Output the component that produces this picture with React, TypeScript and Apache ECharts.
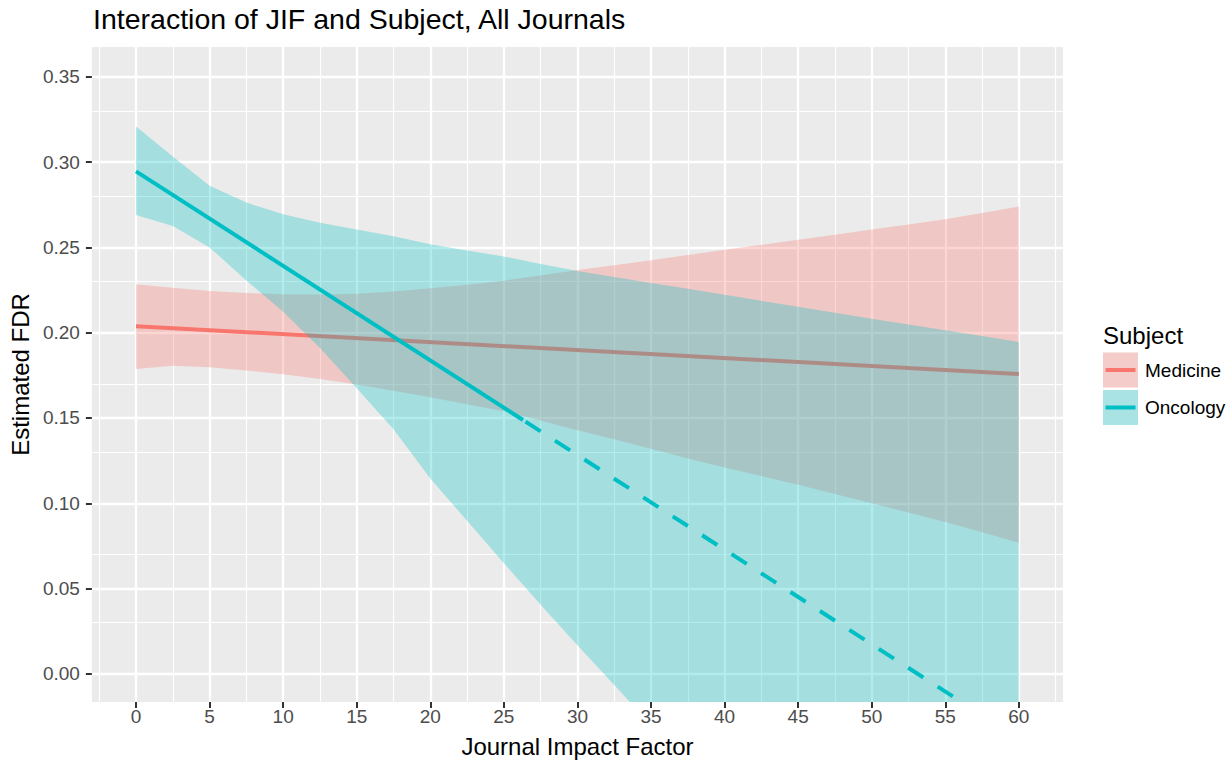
import React, { useEffect, useRef } from "react";
import * as echarts from "echarts";

// ---- data ----
const X_GRID = [0, 2.5, 5, 7.5, 10, 12.5, 15, 17.5, 20, 22.5, 25, 27.5, 30, 32.5, 35, 37.5, 40, 42.5, 45, 47.5, 50, 52.5, 55, 57.5, 60];

const MED_UPPER = [0.2284, 0.2264, 0.2245, 0.2233, 0.2226, 0.2224, 0.2228, 0.2242, 0.226, 0.2281, 0.2305, 0.2335, 0.2368, 0.2396, 0.2425, 0.2455, 0.2486, 0.2515, 0.2545, 0.2575, 0.2605, 0.2635, 0.2665, 0.2702, 0.274];
const MED_LOWER = [0.1787, 0.1806, 0.1797, 0.1778, 0.1757, 0.1728, 0.1697, 0.166, 0.1622, 0.158, 0.1539, 0.1486, 0.1428, 0.1375, 0.132, 0.1262, 0.121, 0.116, 0.1108, 0.1054, 0.1, 0.0946, 0.089, 0.083, 0.0768];
const ONC_UPPER = [0.3209, 0.3033, 0.2862, 0.2763, 0.2694, 0.2644, 0.2605, 0.2566, 0.2518, 0.2482, 0.2447, 0.2403, 0.2362, 0.2327, 0.2292, 0.2257, 0.2222, 0.2187, 0.2152, 0.2117, 0.2082, 0.2048, 0.2014, 0.198, 0.1946];
const ONC_LOWER = [0.269, 0.2625, 0.25, 0.2306, 0.2123, 0.1911, 0.1674, 0.1434, 0.1146, 0.0897, 0.0649, 0.0405, 0.0167, -0.0065, -0.03, -0.03, -0.03, -0.03, -0.03, -0.03, -0.03, -0.03, -0.03, -0.03, -0.03];

const MED_FIT = [[0, 0.2038], [60, 0.1758]];
const ONC_FIT_OBSERVED = [[0, 0.2946], [26.3, 0.1488]];
const ONC_FIT_EXTRAPOLATED = [[26.3, 0.1488], [56.1, -0.0165]];

const X_TICKS = [0, 5, 10, 15, 20, 25, 30, 35, 40, 45, 50, 55, 60];
const Y_TICKS = [0, 0.05, 0.1, 0.15, 0.2, 0.25, 0.3, 0.35];
const X_MINOR = [-2.5, 2.5, 7.5, 12.5, 17.5, 22.5, 27.5, 32.5, 37.5, 42.5, 47.5, 52.5, 57.5, 62.5];
const Y_MINOR = [0.025, 0.075, 0.125, 0.175, 0.225, 0.275, 0.325];

const SUBJECTS = ["Medicine", "Oncology"];
const COLORS = ["#F8766D", "#00BFC4"];
const FILLS = ["rgba(248,118,109,0.3)", "rgba(0,191,196,0.3)"];

const FONT = "'Liberation Sans', Arial, sans-serif";

function bandRows(xs: number[], lo: number[], up: number[]) {
  return xs.map((x, i) => [x, lo[i], up[i]]);
}

function bandSeries(name: string, rows: number[][], fill: string, z: number) {
  return {
    type: "custom",
    name,
    data: rows,
    encode: { x: 0, y: [1, 2] },
    clip: true,
    silent: true,
    z,
    renderItem: (params: any, api: any) => {
      if (params.dataIndex !== 0) return null;
      const top = rows.map((r) => api.coord([r[0], r[2]]));
      const bottom = rows.map((r) => api.coord([r[0], r[1]])).reverse();
      const cs = params.coordSys;
      return {
        type: "polygon",
        shape: { points: top.concat(bottom) },
        style: { fill, stroke: "none" },
        clipPath: {
          type: "rect",
          shape: { x: cs.x, y: cs.y, width: cs.width, height: cs.height },
        },
      };
    },
  };
}

export default function App() {
  const ref = useRef<HTMLDivElement>(null);

  useEffect(() => {
    if (!ref.current) return;
    const chart = echarts.init(ref.current, undefined, { renderer: "svg" });

    const option: any = {
      animation: false,
      backgroundColor: "#FFFFFF",
      title: {
        text: "Interaction of JIF and Subject, All Journals",
        left: 93,
        top: 5,
        padding: 0,
        textStyle: { fontFamily: FONT, fontSize: 28.5, fontWeight: "normal", color: "#000000", lineHeight: 28.5 },
      },
      grid: {
        left: 91,
        top: 47,
        width: 972,
        height: 657,
        show: true,
        backgroundColor: "#EBEBEB",
        borderWidth: 0,
        containLabel: false,
      },
      xAxis: {
        type: "value",
        min: -3,
        max: 63,
        splitNumber: 13,
        axisLine: { show: false, onZero: false },
        axisTick: { show: true, length: 6, lineStyle: { color: "#333333", width: 2 }, customValues: X_TICKS },
        axisLabel: {
          customValues: X_TICKS,
          color: "#4D4D4D",
          fontSize: 19,
          fontFamily: FONT,
          margin: 5,
        },
        splitLine: { show: true, lineStyle: { color: "#FFFFFF", width: 2.3 } },
        name: "Journal Impact Factor",
        nameLocation: "middle",
        nameGap: 32,
        nameTextStyle: { fontFamily: FONT, fontSize: 24, color: "#000000" },
      },
      yAxis: {
        type: "value",
        min: -0.0165,
        max: 0.3675,
        splitNumber: 8,
        axisLine: { show: false, onZero: false },
        axisTick: { show: true, length: 6, lineStyle: { color: "#333333", width: 2 }, customValues: Y_TICKS },
        axisLabel: {
          customValues: Y_TICKS,
          color: "#4D4D4D",
          fontSize: 19,
          fontFamily: FONT,
          margin: 12,
          formatter: (v: number) => v.toFixed(2),
        },
        splitLine: { show: true, lineStyle: { color: "#FFFFFF", width: 2.3 } },
        name: "Estimated FDR",
        nameLocation: "middle",
        nameGap: 53,
        nameTextStyle: { fontFamily: FONT, fontSize: 24, color: "#000000" },
      },
      series: [
        {
          type: "line",
          name: "minor grid",
          data: [],
          silent: true,
          z: 1,
          markLine: {
            silent: true,
            symbol: ["none", "none"],
            z: 1,
            label: { show: false },
            lineStyle: { color: "#FFFFFF", width: 1.15, type: "solid", opacity: 1 },
            emphasis: { disabled: true },
            data: [
              ...X_MINOR.map((v) => ({ xAxis: v })),
              ...Y_MINOR.map((v) => ({ yAxis: v })),
            ],
          },
        },
        bandSeries("Medicine band", bandRows(X_GRID, MED_LOWER, MED_UPPER), FILLS[0], 2),
        {
          type: "line",
          name: SUBJECTS[0],
          data: MED_FIT,
          symbol: "none",
          lineStyle: { color: COLORS[0], width: 4 },
          silent: true,
          z: 3,
        },
        bandSeries("Oncology band", bandRows(X_GRID, ONC_LOWER, ONC_UPPER), FILLS[1], 4),
        {
          type: "line",
          name: SUBJECTS[1],
          data: ONC_FIT_OBSERVED,
          symbol: "none",
          lineStyle: { color: COLORS[1], width: 4 },
          silent: true,
          z: 5,
        },
        {
          type: "line",
          name: SUBJECTS[1] + " (extrapolated)",
          data: ONC_FIT_EXTRAPOLATED,
          symbol: "none",
          lineStyle: { color: COLORS[1], width: 4, type: [18, 17], dashOffset: 32, cap: "butt" },
          silent: true,
          z: 5,
        },
      ],
      graphic: [
        {
          type: "text",
          x: 1103,
          y: 335,
          style: { text: "Subject", fill: "#000000", font: `24px ${FONT}`, verticalAlign: "middle", align: "left" },
        },
        ...SUBJECTS.map((s, i) => ({
          type: "group",
          children: [
            { type: "rect", shape: { x: 1103, y: 352.5 + i * 37.5, width: 35, height: 35 }, style: { fill: "#F2F2F2" } },
            { type: "rect", shape: { x: 1103, y: 352.5 + i * 37.5, width: 35, height: 35 }, style: { fill: FILLS[i] } },
            {
              type: "line",
              shape: { x1: 1105.5, y1: 370 + i * 37.5, x2: 1135.5, y2: 370 + i * 37.5 },
              style: { stroke: COLORS[i], lineWidth: 4 },
            },
            {
              type: "text",
              x: 1145,
              y: 370 + i * 37.5,
              style: { text: s, fill: "#000000", font: `19px ${FONT}`, verticalAlign: "middle", align: "left" },
            },
          ],
        })),
      ],
    };

    chart.setOption(option);
    return () => chart.dispose();
  }, []);

  return (
    <div
      ref={ref}
      style={{ position: "fixed", left: 0, top: 0, width: 1231, height: 763, background: "#fff" }}
    />
  );
}
